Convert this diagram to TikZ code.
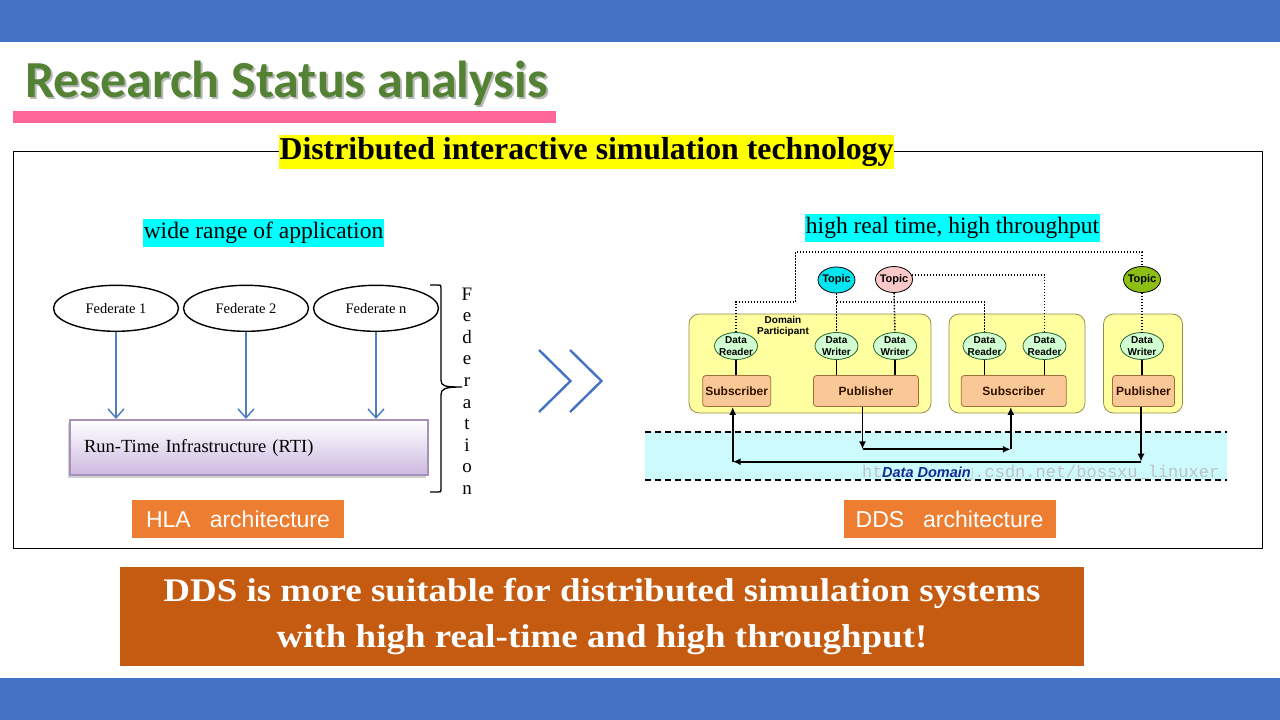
\documentclass[tikz,border=0pt]{standalone}
\usepackage{fontspec}
\setmainfont{Liberation Serif}
\newfontfamily\ddsfont{Liberation Sans}
\newfontfamily\headfont{Carlito}
\newfontfamily\markfont{Liberation Mono}
\newfontfamily\bannerfont[FakeStretch=1.12]{Liberation Serif}
\definecolor{slideblue}{RGB}{68,114,196}
\definecolor{titlegreen}{RGB}{84,130,53}
\definecolor{barpink}{RGB}{255,102,153}
\definecolor{notecyan}{RGB}{0,255,255}
\definecolor{headyellow}{RGB}{255,255,0}
\definecolor{labelorange}{RGB}{237,125,49}
\definecolor{bannerbrown}{RGB}{197,90,17}
\definecolor{fedblue}{RGB}{79,129,189}
\definecolor{rtiborder}{RGB}{165,145,185}
\definecolor{rtilow}{RGB}{205,185,225}
\definecolor{dpyellow}{RGB}{255,255,160}
\definecolor{dpborder}{RGB}{150,140,80}
\definecolor{entgreen}{RGB}{210,255,210}
\definecolor{entborder}{RGB}{40,100,50}
\definecolor{rolefill}{RGB}{250,200,150}
\definecolor{roleborder}{RGB}{160,110,60}
\definecolor{roletext}{RGB}{50,20,0}
\definecolor{topiccyan}{RGB}{0,230,240}
\definecolor{topicpink}{RGB}{250,200,200}
\definecolor{topicgreen}{RGB}{140,190,20}
\definecolor{bandcyan}{RGB}{205,250,252}
\definecolor{domainblue}{RGB}{20,40,150}
\definecolor{markgray}{RGB}{190,195,200}
\newcommand\setfs[1]{\fontsize{#1}{#1}\selectfont}
\usepackage{tikz}
\usetikzlibrary{shapes.geometric,arrows.meta,positioning,calc,shadows}

\begin{document}
\begin{tikzpicture}[x=1pt, y=-1pt,
    note/.style={fill=notecyan, font=\setfs{23.5}, inner xsep=1pt, inner ysep=0pt, minimum height=28pt},
    fedell/.style={ellipse, draw, line width=1.4pt, minimum width=125pt, minimum height=46pt, inner sep=0pt, font=\setfs{14.5}},
    fedarrow/.style={draw=fedblue, line width=1.5pt, -{Straight Barb[length=9pt,width=16pt]}},
    rtibox/.style={rectangle, draw=rtiborder, line width=2pt, top color=white, bottom color=rtilow,
        minimum width=358pt, minimum height=55pt, inner xsep=14pt, text width=330pt, align=left, font=\setfs{18.5},
        drop shadow={shadow xshift=-2pt, shadow yshift=-3pt, fill=gray!60, opacity=.6}},
    fedletter/.style={anchor=base, font=\setfs{19}, inner sep=0pt},
    archlabel/.style={fill=labelorange, text=white, font=\ddsfont\setfs{23}, minimum width=212pt, minimum height=38pt, inner sep=0pt},
    chevron/.style={draw=slideblue, line width=2.4pt},
    partbox/.style={rectangle, rounded corners=10pt, draw=dpborder, fill=dpyellow, line width=0.8pt, minimum height=99pt},
    entity/.style={ellipse, draw=entborder, fill=entgreen, line width=0.8pt, minimum width=43pt, minimum height=27pt,
        inner xsep=-3pt, inner ysep=-2pt, align=center, font=\ddsfont\bfseries\fontsize{10}{11.7}\selectfont},
    rolebox/.style={rectangle, rounded corners=3pt, draw=roleborder, fill=rolefill, line width=0.8pt, minimum height=31pt,
        inner sep=0pt, text=roletext, font=\ddsfont\bfseries\setfs{12}},
    topicell/.style={ellipse, draw, line width=0.8pt, minimum width=37pt, minimum height=26pt, inner xsep=-4pt, inner ysep=0pt,
        font=\ddsfont\bfseries\setfs{11}},
    entlink/.style={line width=1.4pt},
    topicline/.style={line width=1.5pt, dash pattern=on 1.5pt off 1.5pt},
    dataflow/.style={line width=1.8pt, -{Latex[length=8pt,width=7pt]}},
    bandedge/.style={line width=1.2pt, dash pattern=on 6pt off 4pt},
    banner/.style={fill=bannerbrown, text=white, font=\bannerfont\bfseries\fontsize{33}{46.7}\selectfont, align=center,
        minimum width=964pt, minimum height=99pt}]
\useasboundingbox (0,0) rectangle (1280,720);

% slide frame
\fill[slideblue] (0,0) rectangle (1280,42);
\fill[slideblue] (0,678) rectangle (1280,720);
\node[anchor=base west, inner sep=0pt, text=gray!55, font=\headfont\bfseries\setfs{52}] (titleshade) at (27,99) {Research Status analysis};
\node[anchor=base west, inner sep=0pt, text=titlegreen, font=\headfont\bfseries\setfs{52}] (title) at (25,97) {Research Status analysis};
\fill[barpink] (13,111) rectangle (556,123);
\draw[line width=0.9pt] (13,151) rectangle (1262,548);
\node[fill=headyellow, font=\bfseries\setfs{31.8}, inner xsep=1pt, inner ysep=0pt, minimum height=34pt] (headline) at (586.5,152) {Distributed interactive simulation technology};

% HLA side
\node[note] (hlanote) at (263.5,233) {wide range of application};
\node[fedell] (fed1) at (116,308.3) {Federate 1};
\node[fedell] (fed2) at (246,308.3) {Federate 2};
\node[fedell] (fedn) at (376,308.3) {Federate n};
\node[rtibox] (rti) at (249,447.5) {Run-Time Infrastructure (RTI)};
\foreach \f in {fed1,fed2,fedn}
    \draw[fedarrow] (\f.south) -- (\f.south |- rti.north);
\draw[line width=1.3pt] (430,285) -- (438,285) .. controls (441,285) .. (441,288) -- (441,380)
    .. controls (441,386) and (444,387) .. (462,387) .. controls (444,387) and (441,389) .. (441,395)
    -- (441,489) .. controls (441,492) .. (438,492) -- (430,492);
\foreach \ch [count=\k] in {F,e,d,e,r,a,t,i,o,n}
    \node[fedletter] (fedl\k) at (467,{300+21.6*(\k-1)}) {\ch};
\node[archlabel] (hlalabel) at (238,519) {HLA\hspace{19pt}architecture};

% chevrons
\draw[chevron] (539,350) -- (570.5,381) -- (539,412);
\draw[chevron] (570,350) -- (601.5,381) -- (570,412);

% DDS side
\node[note] (ddsnote) at (952.5,227.5) {high real time, high throughput};
\fill[bandcyan] (645,432) rectangle (1227,480);
\draw[bandedge] (645,432) -- (1227,432);
\draw[bandedge] (645,480) -- (1227,480);
\node[anchor=base west, inner sep=0pt, text=markgray, font=\markfont\setfs{17}] (wmark) at (862,477) {http://blog.csdn.net/bossxu\_linuxer};
\node[anchor=base, fill=bandcyan, inner sep=1pt, text=domainblue, font=\ddsfont\bfseries\itshape\setfs{14.5}] (domain) at (926.5,477) {Data Domain};

\node[partbox, minimum width=242pt] (dp1) at (810,363.5) {};
\node[partbox, minimum width=136pt] (dp2) at (1017,363.5) {};
\node[partbox, minimum width=79pt] (dp3) at (1143,363.5) {};
\node[inner sep=0pt, align=center, font=\ddsfont\bfseries\fontsize{10}{11.5}\selectfont] (dplabel) at (783,326.5) {Domain\\Participant};

\node[entity] (dr1) at (736,346) {Data\\Reader};
\node[entity] (dw1) at (836.5,346) {Data\\Writer};
\node[entity] (dw2) at (895,346) {Data\\Writer};
\node[entity] (dr2) at (984.5,346) {Data\\Reader};
\node[entity] (dr3) at (1044.5,346) {Data\\Reader};
\node[entity] (dw3) at (1142,346) {Data\\Writer};

\node[rolebox, minimum width=68pt] (sub1) at (736.7,391) {Subscriber};
\node[rolebox, minimum width=105pt] (pub1) at (866,391) {Publisher};
\node[rolebox, minimum width=105pt] (sub2) at (1013.8,391) {Subscriber};
\node[rolebox, minimum width=62pt] (pub3) at (1143.5,391) {Publisher};

\node[topicell, fill=topiccyan] (tcyan) at (836.5,280) {Topic};
\node[topicell, fill=topicpink] (tpink) at (894,279.5) {Topic};
\node[topicell, fill=topicgreen] (tgreen) at (1142,279.5) {Topic};

\foreach \e/\r in {dr1/sub1, dw1/pub1, dw2/pub1, dr2/sub2, dr3/sub2, dw3/pub3}
    \draw[entlink] (\e.south) -- (\e.south |- \r.north);

% topic wiring
\coordinate (toprow) at (0,252);
\coordinate (midrow) at (0,302);
\coordinate (upturn) at (795.5,0);
\draw[topicline] (dr1.north) |- (upturn |- midrow) -- (upturn |- toprow) -| (tgreen.north);
\draw[topicline] (tgreen.south) -- (dw3.north);
\draw[topicline] (tcyan.south) -- (dw1.north);
\draw[topicline] (tcyan.south |- midrow) -| (dr2.north);
\draw[topicline] (tpink.south) -- (dw2.north);
\draw[topicline] (tpink.15) -| (dr3.north);

% data flows
\coordinate (midlane) at (0,449.3);
\coordinate (lowlane) at (0,461.7);
\draw[dataflow] ([xshift=-3.5pt]pub1.south) -- ([xshift=-3.5pt]pub1.south |- midlane);
\draw[dataflow] ([xshift=-3.5pt]pub1.south |- midlane) -- ([xshift=-3pt]sub2.south |- midlane);
\draw[dataflow] ([xshift=-3pt]sub2.south |- midlane) -- ([xshift=-3pt]sub2.south);
\draw[dataflow] ([xshift=-2.5pt]pub3.south) -- ([xshift=-2.5pt]pub3.south |- lowlane);
\draw[dataflow] ([xshift=-2.5pt]pub3.south |- lowlane) -- ([xshift=-4pt]sub1.south |- lowlane);
\draw[dataflow] ([xshift=-4pt]sub1.south |- lowlane) -- ([xshift=-4pt]sub1.south);
\node[archlabel] (ddslabel) at (949.5,519) {DDS\hspace{19pt}architecture};

% conclusion
\node[banner] (verdict) at (602,616.5) {DDS is more suitable for distributed simulation systems\\with high real-time and high throughput!};
\end{tikzpicture}
\end{document}
